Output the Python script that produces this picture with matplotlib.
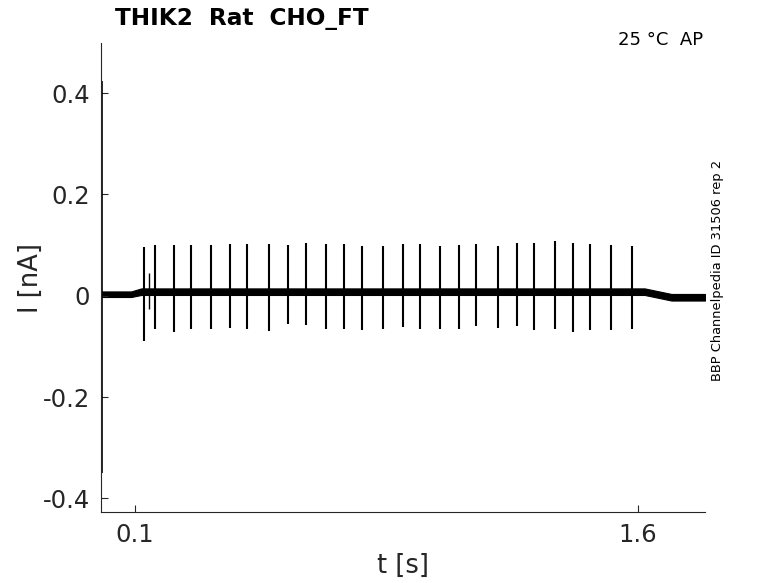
import matplotlib
matplotlib.use("Agg")
import matplotlib.pyplot as plt
import numpy as np

# ---- data ----
# baseline noise band (time [s], centre [nA], half-width [nA])
base_t = [0.002, 0.090, 0.120, 1.620, 1.700, 1.800]
base_c = [0.003, 0.003, 0.008, 0.008, -0.003, -0.003]
base_hw = [0.0055, 0.0055, 0.0065, 0.0065, 0.0065, 0.0065]

# capacitive transient at start
trans_t = 0.002
trans_top = 0.424
trans_bottom = -0.350

# action-potential current spikes
spike_t = [0.1269, 0.1618, 0.2174, 0.2694, 0.3292, 0.3859, 0.4355, 0.4995,
           0.5580, 0.6100, 0.6698, 0.7253, 0.7773, 0.8401, 0.8998, 0.9506,
           1.0113, 1.0671, 1.1188, 1.1816, 1.2404, 1.2912, 1.3519, 1.4077,
           1.4574, 1.5213, 1.5810]
spike_top = [0.096, 0.100, 0.101, 0.100, 0.101, 0.103, 0.102, 0.102,
             0.100, 0.104, 0.102, 0.103, 0.098, 0.099, 0.102, 0.102,
             0.099, 0.101, 0.102, 0.099, 0.104, 0.104, 0.108, 0.104,
             0.103, 0.101, 0.099]
spike_bottom = [-0.090, -0.066, -0.071, -0.065, -0.065, -0.063, -0.065, -0.069,
                -0.056, -0.057, -0.065, -0.066, -0.068, -0.065, -0.061, -0.066,
                -0.065, -0.066, -0.060, -0.064, -0.059, -0.067, -0.065, -0.071,
                -0.067, -0.067, -0.066]
small_t = [0.1427]
small_top = [0.045]
small_bottom = [-0.027]

xticks = [0.1, 1.6]
xtick_labels = ["0.1", "1.6"]
yticks = [-0.4, -0.2, 0, 0.2, 0.4]
ytick_labels = ["-0.4", "-0.2", "0", "0.2", "0.4"]

title = "THIK2  Rat  CHO_FT"
cond = "25 °C  AP"
side = "BBP Channelpedia ID 31506 rep 2"

# ---- figure ----
fig = plt.figure(figsize=(7.78, 5.83), dpi=100)
ax = fig.add_axes([0.1298, 0.1218, 0.7764, 0.8044])

bt = np.array(base_t)
bc = np.array(base_c)
bh = np.array(base_hw)
ax.fill_between(bt, bc - bh, bc + bh, color="black", linewidth=0.8, edgecolor="black")
ax.vlines([trans_t], [trans_bottom], [trans_top], color="black", linewidth=1.2)
ax.vlines(spike_t, spike_bottom, spike_top, color="black", linewidth=1.5)
ax.vlines(small_t, small_bottom, small_top, color="black", linewidth=1.0)

ax.set_xlim(0, 1.8)
ax.set_ylim(-0.427, 0.499)
ax.set_xticks(xticks)
ax.set_xticklabels(xtick_labels)
ax.set_yticks(yticks)
ax.set_yticklabels(ytick_labels)

for s in ["top", "right"]:
    ax.spines[s].set_visible(False)
for s in ["left", "bottom"]:
    ax.spines[s].set_color("#262626")
    ax.spines[s].set_linewidth(0.8)
ax.tick_params(direction="in", length=5, width=0.8, colors="#262626",
               labelsize=17.5, pad=8)

ax.set_xlabel("t [s]", fontsize=18.5, color="#262626", labelpad=4)
ax.set_ylabel("I [nA]", fontsize=18.5, color="#262626", labelpad=-1)

fig.text(115 / 778, 1 - 18 / 583, title, fontsize=16.7, fontweight="bold",
         ha="left", va="center")
fig.text(703 / 778, 1 - 40 / 583, cond, fontsize=13, ha="right", va="center")
fig.text(717 / 778, 1 - 270 / 583, side, fontsize=9.4, rotation=90,
         ha="center", va="center")

fig.savefig("out.png", dpi=100)
